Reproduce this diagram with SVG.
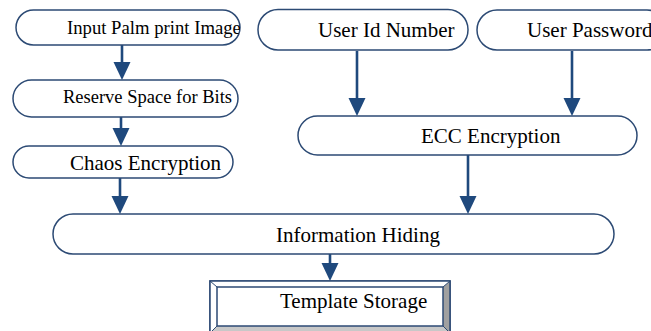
<svg xmlns="http://www.w3.org/2000/svg" width="651" height="331" viewBox="0 0 651 331">
<style>
.box{fill:#ffffff;stroke:#2c4a74;stroke-width:1.5}
.t{font-family:"Liberation Serif","Times New Roman",serif;fill:#000000}
.arr{stroke:#1F497D;stroke-width:2.6;fill:none}
.head{fill:#1F497D}
</style>
<defs>
<clipPath id="c1"><rect x="16" y="10" width="224" height="35" rx="17.5"/></clipPath>
<clipPath id="c2"><rect x="13" y="80" width="225" height="37" rx="18.5"/></clipPath>
</defs>
<rect width="651" height="331" fill="#ffffff"/>
<g id="connectors">
<line class="arr" x1="122" y1="45" x2="122" y2="64"/><polygon class="head" points="113.5,62 130.5,62 122,80"/>
<line class="arr" x1="121" y1="117" x2="121" y2="130"/><polygon class="head" points="112.5,128 129.5,128 121,146"/>
<line class="arr" x1="120" y1="178" x2="120" y2="198"/><polygon class="head" points="111.5,196 128.5,196 120,214"/>
<line class="arr" x1="357" y1="51" x2="357" y2="100"/><polygon class="head" points="348.5,98 365.5,98 357,116"/>
<line class="arr" x1="572" y1="51" x2="572" y2="100"/><polygon class="head" points="563.5,98 580.5,98 572,116"/>
<line class="arr" x1="468" y1="155" x2="468" y2="198"/><polygon class="head" points="459.5,196 476.5,196 468,214"/>
<line class="arr" x1="330" y1="254" x2="330" y2="265"/><polygon class="head" points="321.5,263 338.5,263 330,281"/>
</g>
<g id="node-input">
<rect class="box" x="16" y="10" width="224" height="35" rx="17.5"/>
<text class="t" x="67" y="33.5" font-size="18.7" clip-path="url(#c1)">Input Palm print Image</text>
</g>
<g id="node-reserve">
<rect class="box" x="13" y="80" width="225" height="37" rx="18.5"/>
<text class="t" x="63" y="103" font-size="18.5" clip-path="url(#c2)">Reserve Space for Bits</text>
</g>
<g id="node-chaos">
<rect class="box" x="13" y="146" width="220" height="32" rx="16"/>
<text class="t" x="70" y="170" font-size="21">Chaos Encryption</text>
</g>
<g id="node-userid">
<rect class="box" x="258" y="9.5" width="210" height="40.5" rx="20"/>
<text class="t" x="318" y="36.5" font-size="21">User Id Number</text>
</g>
<g id="node-password">
<rect class="box" x="477" y="10" width="190" height="40" rx="20"/>
<text class="t" x="527" y="37" font-size="21">User Password</text>
</g>
<g id="node-ecc">
<rect class="box" x="298" y="116" width="339" height="39" rx="19.5"/>
<text class="t" x="421" y="143" font-size="21">ECC Encryption</text>
</g>
<g id="node-hiding">
<rect class="box" x="53" y="214" width="561" height="40" rx="20"/>
<text class="t" x="276" y="242" font-size="21">Information Hiding</text>
</g>
<g id="node-template">
<rect x="210" y="281" width="240" height="60" fill="#ffffff" stroke="#2c4a74" stroke-width="1.5"/>
<polygon points="210,281 450,281 443,287 217,287" fill="#ffffff"/>
<polygon points="210,281 217,287 217,326 210,333" fill="#ffffff"/>
<polygon points="450,281 443,287 443,326 450,333" fill="#a0a0a0"/>
<polygon points="217,326 443,326 450,333 210,333" fill="#c8c8c8"/>
<rect x="210" y="281" width="240" height="60" fill="none" stroke="#2c4a74" stroke-width="1.5"/>
<line x1="210" y1="281" x2="217" y2="287" stroke="#2c4a74" stroke-width="1"/>
<line x1="450" y1="281" x2="443" y2="287" stroke="#2c4a74" stroke-width="1"/>
<line x1="210" y1="333" x2="217" y2="326" stroke="#2c4a74" stroke-width="1"/>
<line x1="450" y1="333" x2="443" y2="326" stroke="#2c4a74" stroke-width="1"/>
<rect x="217" y="287" width="226" height="39" fill="#ffffff" stroke="#2c4a74" stroke-width="1.5"/>
<text class="t" x="280" y="307.5" font-size="21">Template Storage</text>
</g>
</svg>
